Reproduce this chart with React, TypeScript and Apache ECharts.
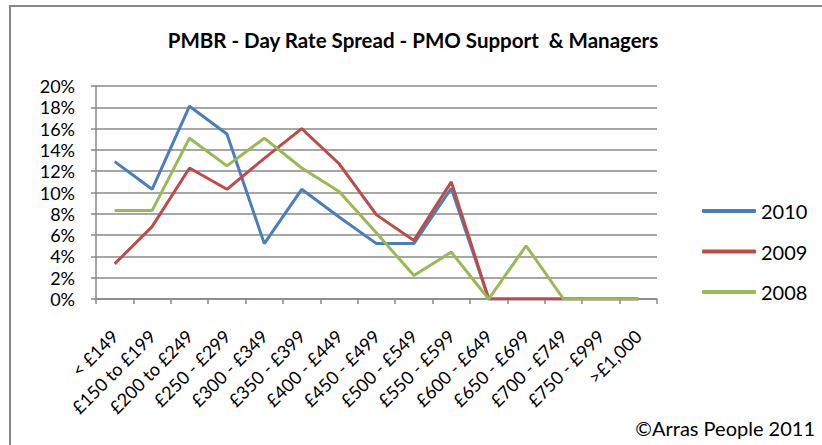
import React, { useEffect, useRef } from "react";
import * as echarts from "echarts";

const categories = [
  "< £149", "£150 to £199", "£200 to £249", "£250 - £299", "£300 - £349",
  "£350 - £399", "£400 - £449", "£450 - £499", "£500 - £549", "£550 - £599",
  "£600 - £649", "£650 - £699", "£700 - £749", "£750 - £999", ">£1,000",
];
const series2010 = [12.9, 10.3, 18.1, 15.5, 5.2, 10.3, 7.7, 5.2, 5.2, 10.4, 0, 0, 0, 0, 0];
const series2009 = [3.3, 6.8, 12.3, 10.3, 13.2, 16.0, 12.7, 7.9, 5.5, 11.0, 0, 0, 0, 0, 0];
const series2008 = [8.3, 8.3, 15.1, 12.5, 15.1, 12.3, 10.1, 6.2, 2.2, 4.4, 0, 5.0, 0, 0, 0];
const seriesNames = ["2010", "2009", "2008"];
const colors = ["#4a7ebb", "#be4b48", "#98b954"];
const yTicks = [0, 2, 4, 6, 8, 10, 12, 14, 16, 18, 20];

const FONT = "Lato, 'Open Sans', sans-serif";

export default function App() {
  const ref = useRef<HTMLDivElement>(null);
  useEffect(() => {
    if (!ref.current) return;
    const chart = echarts.init(ref.current, undefined, { renderer: "svg" });
    const data = [series2010, series2009, series2008];
    chart.setOption({
      animation: false,
      backgroundColor: "#ffffff",
      textStyle: { fontFamily: FONT },
      title: {
        text: "PMBR - Day Rate Spread - PMO Support  & Managers",
        left: 408,
        textAlign: "center",
        top: 24,
        textStyle: { fontFamily: FONT, fontSize: 20.5, fontWeight: "bold", color: "#000" },
      },
      grid: { left: 96, top: 86, right: 165, bottom: 146, containLabel: false },
      legend: {
        orient: "vertical",
        left: 697,
        top: 196,
        icon: "roundRect",
        itemWidth: 54,
        itemHeight: 4,
        itemGap: 20.5,
        data: seriesNames,
        textStyle: { fontFamily: FONT, fontSize: 20, color: "#000" },
      },
      xAxis: {
        type: "category",
        data: categories,
        boundaryGap: true,
        axisLine: { lineStyle: { color: "#888", width: 1.5 } },
        axisTick: { show: true, length: 5, interval: 0, lineStyle: { color: "#888", width: 1.5 } },
        axisLabel: {
          rotate: 45,
          interval: 0,
          margin: 34,
          fontFamily: FONT,
          fontSize: 18,
          color: "#000",
        },
      },
      yAxis: {
        type: "value",
        min: 0,
        max: 20,
        interval: 2,
        axisLine: { show: true, lineStyle: { color: "#888", width: 1.5 } },
        axisTick: { show: true, length: 5, inside: false, lineStyle: { color: "#888", width: 1.5 } },
        splitLine: { show: true, lineStyle: { color: "#888", width: 1.5 } },
        axisLabel: {
          margin: 21,
          fontFamily: FONT,
          fontSize: 18,
          lineHeight: 18,
          color: "#000",
          formatter: (v: number) => (yTicks.includes(v) ? v + "%" : ""),
        },
      },
      series: seriesNames.map((name, i) => ({
        name,
        type: "line",
        data: data[i],
        symbol: "none",
        color: colors[i],
        lineStyle: { width: 3, color: colors[i] },
        z: 2 + i,
      })),
      graphic: [
        {
          type: "rect",
          shape: { x: 10, y: 6, width: 840, height: 460 },
          style: { fill: "none", stroke: "#888", lineWidth: 2 },
          silent: true,
        },
        {
          type: "text",
          x: 815,
          y: 428,
          style: {
            text: "©Arras People 2011",
            fontFamily: FONT,
            fontSize: 20,
            fill: "#000",
            textAlign: "right",
            textVerticalAlign: "middle",
          },
        },
      ],
    });
    return () => chart.dispose();
  }, []);
  return (
    <div
      ref={ref}
      style={{ position: "fixed", left: 0, top: 0, width: 822, height: 445 }}
    />
  );
}
